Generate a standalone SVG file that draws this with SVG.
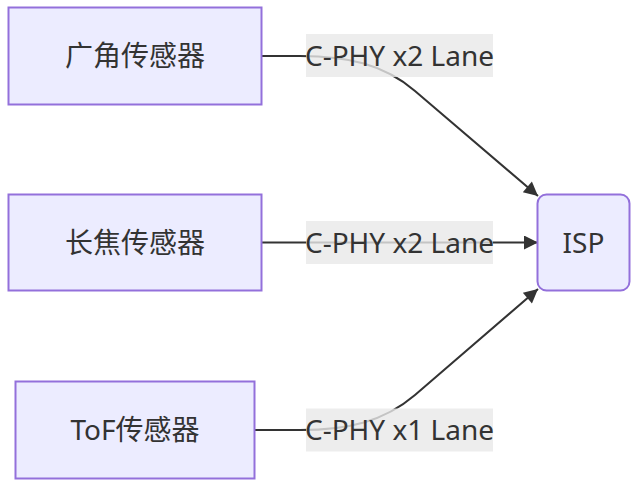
<svg xmlns="http://www.w3.org/2000/svg" width="638" height="490" viewBox="0 0 638 490">
<defs>
<style>
.node rect{fill:#ECECFF;stroke:#9370DB;stroke-width:2}
text{font-family:"Noto Sans","Noto Sans CJK SC",sans-serif;font-size:28px;fill:#333;text-anchor:middle}
.edge{fill:none;stroke:#333;stroke-width:2}
.lbl rect{fill:#e8e8e8;fill-opacity:0.8}
</style>
<marker id="arrow" viewBox="0 0 10 10" refX="10" refY="5" markerUnits="userSpaceOnUse" markerWidth="16" markerHeight="14" orient="auto">
<path d="M0,0 L10,5 L0,10 z" fill="#333"/>
</marker>
</defs>
<g id="edges">
<path class="edge" d="M261.5,56 L300,56 C348,56 384,64.5 415,91 L538,196" marker-end="url(#arrow)"/>
<path class="edge" d="M261.5,242.5 L538,242.5" marker-end="url(#arrow)"/>
<path class="edge" d="M254.5,430 L300,430 C348,430 384,421.5 415,395 L538,289" marker-end="url(#arrow)"/>
</g>
<g id="edge-labels">
<g class="lbl"><rect x="306" y="34" width="187" height="43"/><text x="399.5" y="65.5">C-PHY x2 Lane</text></g>
<g class="lbl"><rect x="306" y="221" width="187" height="43"/><text x="399.5" y="252.5">C-PHY x2 Lane</text></g>
<g class="lbl"><rect x="306" y="408.5" width="187" height="43"/><text x="399.5" y="440">C-PHY x1 Lane</text></g>
</g>
<g id="wide" class="node"><rect x="8.5" y="7.5" width="253" height="97"/><text x="135" y="66">广角传感器</text></g>
<g id="tele" class="node"><rect x="8.5" y="194.5" width="253" height="96"/><text x="135" y="252.5">长焦传感器</text></g>
<g id="tof" class="node"><rect x="15.5" y="381.5" width="239" height="97"/><text x="135" y="440">ToF传感器</text></g>
<g id="isp" class="node"><rect x="537.5" y="194.5" width="92" height="96" rx="9" ry="9"/><text x="583.5" y="252.5">ISP</text></g>
</svg>
